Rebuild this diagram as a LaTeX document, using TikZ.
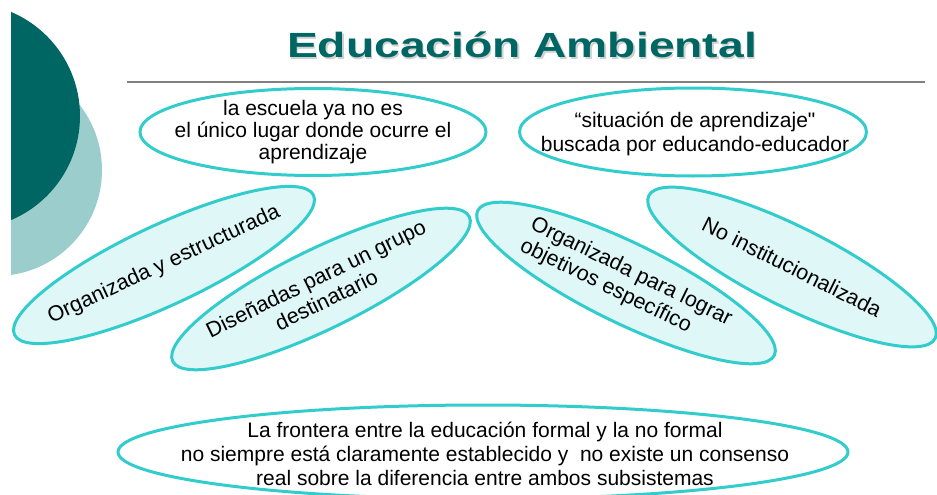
\documentclass[tikz,border=0pt]{standalone}
\usepackage{fontspec}
\setmainfont{Liberation Sans}
\newfontfamily\rawfont{Liberation Sans}
\usepackage{xcolor}
\usetikzlibrary{shapes.geometric}
\definecolor{tealdark}{RGB}{0,102,99}
\definecolor{teallight}{RGB}{155,205,204}
\definecolor{bubbleline}{RGB}{51,204,204}
\definecolor{bubblefill}{RGB}{223,247,247}
\tikzset{
  bubble/.style={ellipse, draw=bubbleline, line width=3pt, inner sep=0pt},
  leaf/.style={bubble, fill=bubblefill, minimum width=330, minimum height=80},
  btext/.style={font=\fontsize{21}{22}\selectfont, align=center, inner sep=0pt},
  ltext/.style={btext, font=\fontsize{21.5}{24}\selectfont}
}

\begin{document}
\begin{tikzpicture}[x=1pt, y=-1pt]
\useasboundingbox (0,0) rectangle (937,495);
% circles on the left
\begin{scope}
\clip (11,0) rectangle (200,495);
\fill[teallight] (-4,170) circle (106);
\fill[tealdark] (-33,116) circle (113);
\end{scope}
% title and rule
\node[text=black!18, anchor=base, font=\bfseries\fontsize{35}{35}\selectfont, xscale=1.32] at (523.5,59.5) {Educación Ambiental};
\node[text=tealdark, anchor=base, font=\bfseries\fontsize{35}{35}\selectfont, xscale=1.32] (title) at (522,58) {Educación Ambiental};
\draw[black!50, line width=2pt] (127,82) -- (925,82);
% top bubbles
\node[bubble, minimum width=346, minimum height=87] (escuela) at (313,132) {};
\node[btext] at (escuela) {la escuela ya no es\\el único lugar donde ocurre el\\aprendizaje};
\node[bubble, minimum width=347, minimum height=88] (situacion) at (693,132) {};
\node[btext, font=\fontsize{21}{24}\selectfont] at (695,134) {“situación de aprendizaje{\rawfont"}\\buscada por educando-educador};
% tilted bubbles
\node[leaf, rotate=25] (organizada) at (164,265) {};
\node[ltext, rotate=25] at (organizada) {Organizada y estructurada};
\node[leaf, rotate=26] (disenadas) at (321,289) {};
\node[ltext, rotate=26] at (disenadas) {Diseñadas para un grupo\\destinatario};
\node[leaf, rotate=-26] (objetivos) at (626,283) {};
\node[ltext, rotate=-26, align=left] at (objetivos) {Organizada para lograr\\objetivos específico};
\node[leaf, rotate=-26.5, minimum width=320] (noinst) at (792,267) {};
\node[ltext, rotate=-26.5] at (noinst) {No institucionalizada};
% bottom bubble
\node[bubble, minimum width=730, minimum height=94] (frontera) at (483,452) {};
\node[btext, font=\fontsize{21}{24}\selectfont] at (485,454) {La frontera entre la educación formal y la no formal\\no siempre está claramente establecido y \ no existe un consenso\\real sobre la diferencia entre ambos subsistemas};
\end{tikzpicture}
\end{document}
